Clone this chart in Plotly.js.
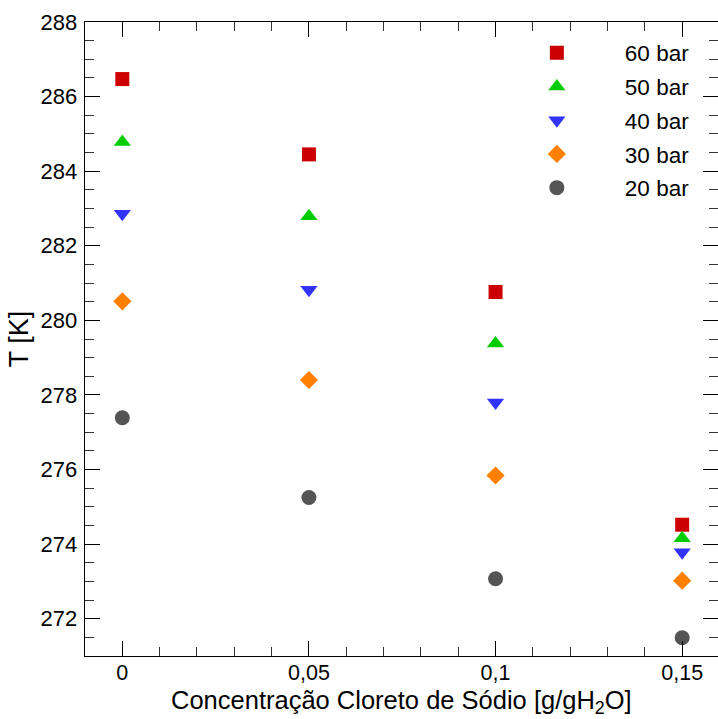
<!DOCTYPE html>
<html>
<head>
<meta charset="utf-8">
<script src="https://cdn.plot.ly/plotly-3.0.1.min.js"></script>
<style>html,body{margin:0;padding:0;background:#fff;}#chart{width:718px;height:719px;}</style>
</head>
<body>
<div id="chart"></div>
<script>
// Data
var concentration = [0, 0.05, 0.1, 0.15];
var seriesNames = ["60 bar", "50 bar", "40 bar", "30 bar", "20 bar"];
var t60 = [286.47, 284.45, 280.76, 274.52];
var t50 = [284.78, 282.79, 279.38, 274.16];
var t40 = [282.86, 280.82, 277.80, 273.78];
var t30 = [280.51, 278.40, 275.84, 273.02];
var t20 = [277.39, 275.25, 273.07, 271.49];
var xTickVals = [0, 0.05, 0.1, 0.15];
var xTickText = ["0", "0,05", "0,1", "0,15"];
var yTickVals = [272, 274, 276, 278, 280, 282, 284, 286, 288];
var xTitle = "Concentração Cloreto de Sódio [g/gH<sub>2</sub>O]";
var yTitle = "T [K]";

var seriesValues = [t60, t50, t40, t30, t20];
var symbols = ["square", "triangle-up", "triangle-down", "diamond", "circle"];
var colors = ["#cc0000", "#00cc00", "#3333ff", "#ff8000", "#555555"];
var sizes = [14, 15, 15, 14, 15];

var traces = seriesValues.map(function (vals, i) {
  return {
    x: concentration,
    y: vals,
    name: seriesNames[i],
    type: "scatter",
    mode: "markers",
    legendgroup: "g" + i,
    marker: { symbol: symbols[i], color: colors[i], size: sizes[i], line: { width: 0 } },
    cliponaxis: false
  };
});

var fontFam = "Liberation Sans, Arial, sans-serif";
var layout = {
  width: 718,
  height: 719,
  margin: { l: 85, r: 0, t: 22, b: 63, autoexpand: false },
  paper_bgcolor: "#ffffff",
  plot_bgcolor: "#ffffff",
  font: { family: fontFam, color: "#000000", size: 22 },
  showlegend: true,
  legend: {
    x: 0.638, y: 0.985, xanchor: "left", yanchor: "top",
    bgcolor: "rgba(0,0,0,0)", borderwidth: 0,
    itemwidth: 126, tracegroupgap: 1.5, traceorder: "grouped",
    font: { family: fontFam, size: 22.5, color: "#000000" }
  },
  xaxis: {
    range: [-0.01, 0.1596],
    tickvals: xTickVals,
    ticktext: xTickText,
    ticks: "inside", ticklen: 15, tickwidth: 1, tickcolor: "#000000",
    minor: { dtick: 0.01, tick0: 0, ticks: "inside", ticklen: 9, tickwidth: 1, tickcolor: "#333333", showgrid: false },
    showline: true, linecolor: "#000000", linewidth: 1.3, mirror: "ticks",
    showgrid: false, zeroline: false,
    automargin: false,
    ticklabelstandoff: -3,
    tickfont: { size: 21.5, family: fontFam }
  },
  yaxis: {
    range: [271, 288],
    tickvals: yTickVals,
    ticks: "inside", ticklen: 15, tickwidth: 1, tickcolor: "#000000",
    minor: { dtick: 0.5, tick0: 271, ticks: "inside", ticklen: 9, tickwidth: 1, tickcolor: "#333333", showgrid: false },
    showline: true, linecolor: "#000000", linewidth: 1.3, mirror: "ticks",
    showgrid: false, zeroline: false,
    automargin: false,
    ticklabelstandoff: 2,
    tickfont: { size: 22, family: fontFam },
    title: { text: yTitle, font: { size: 27, family: fontFam }, standoff: 4 }
  },
  annotations: [{
    text: xTitle,
    xref: "paper", yref: "paper",
    x: 0.5, y: 0, xanchor: "center", yanchor: "bottom",
    yshift: -62.5,
    showarrow: false,
    borderpad: 0,
    font: { size: 25.5, family: fontFam, color: "#000000" }
  }]
};

Plotly.newPlot("chart", traces, layout, { displayModeBar: false, staticPlot: true });
</script>
</body>
</html>
